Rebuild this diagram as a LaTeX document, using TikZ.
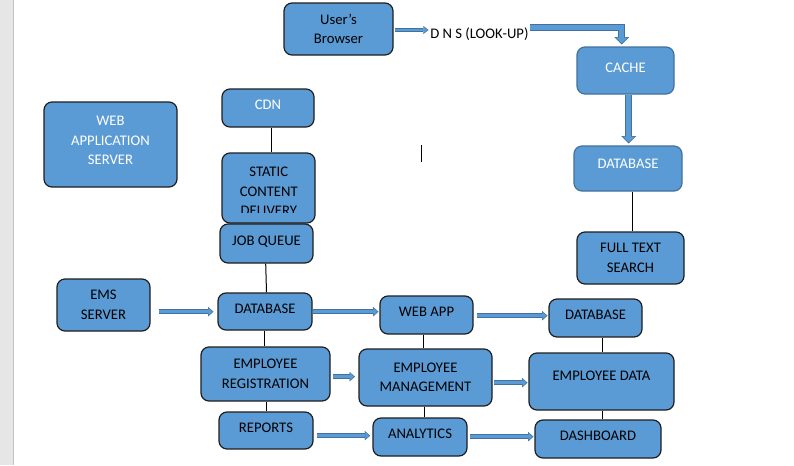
\documentclass[tikz,border=0pt]{standalone}
\usepackage{fontspec}
\setmainfont{Carlito}
\usetikzlibrary{arrows.meta,calc}
\definecolor{boxfill}{HTML}{5B9BD5}
\definecolor{boxedge}{HTML}{1E1E1E}
\definecolor{blueedge}{HTML}{41719C}
\definecolor{afill}{HTML}{5B9BD5}
\definecolor{aedge}{HTML}{41719C}
\definecolor{margin}{HTML}{E6E6E6}
\definecolor{marginline}{HTML}{C4C4C4}
\newcommand\mkbox[7][]{\node[box,#1,minimum width={(#4-#2)*0.75pt},minimum height={(#5-#3)*0.75pt}] (#6) at ({(#2+#4)/2},{(#3+#5)/2}) {#7};}
\tikzset{
  box/.style={draw=boxedge, fill=boxfill, line width=0.9pt, rounded corners=6pt,
    inner sep=0pt, align=center, text=black, font=\fontsize{11}{14.6}\selectfont},
  whitetxt/.style={text=white},
  blueline/.style={draw=blueedge},
  one/.style={text height=7pt, text depth=4.5pt},
  conn/.style={draw=black, line width=0.75pt},
  barrow/.style={draw=aedge, line width=3.4pt,
    -{Triangle[length=4pt,width=7pt,line width=0.1pt]},
    postaction={draw=afill, line width=2pt, shorten >=0.8pt,
      -{Triangle[length=2.8pt,width=5pt,line width=0.1pt]}}},
  sarrow/.style={draw=aedge, line width=3pt,
    -{Triangle[length=3.8pt,width=5.8pt,line width=0.1pt]},
    postaction={draw=afill, line width=1.7pt, shorten >=0.8pt,
      -{Triangle[length=2.6pt,width=4pt,line width=0.1pt]}}},
  bigarrow/.style={draw=aedge, line width=5.2pt,
    -{Triangle[length=5.5pt,width=11pt,line width=0.1pt]},
    postaction={draw=afill, line width=3.7pt, shorten >=1pt,
      -{Triangle[length=4pt,width=8.5pt,line width=0.1pt]}}},
  plain/.style={inner sep=0pt, font=\fontsize{11}{14.6}\selectfont, text=black},
}
\begin{document}
\begin{tikzpicture}[x=0.75pt,y=-0.75pt]
\fill[white] (0,0) rectangle (794,465);
\useasboundingbox (0,0) rectangle (794,465);
\fill[margin] (0,0) rectangle (13,465);
\draw[marginline, line width=0.75pt] (13.3,0) -- (13.3,465);

% boxes
\mkbox{284}{3}{393}{55}{browser}{User’s\\Browser}
\mkbox[whitetxt,blueline,one]{577}{47}{674}{94}{cache}{CACHE}
\mkbox[whitetxt,blueline,text height=7pt,text depth=7.5pt]{574}{146}{682}{191}{dbt}{DATABASE}
\mkbox{577}{232}{684}{284}{fts}{FULL TEXT\\SEARCH}
\mkbox[whitetxt,text depth=6pt]{44}{102}{177}{187}{was}{WEB\\APPLICATION\\SERVER}
\mkbox[whitetxt,one]{222}{89}{314}{127}{cdn}{CDN}
\mkbox{222}{153}{315}{223}{scd}{}
\begin{scope}
  \clip (222,153) rectangle (315,212.7);
  \node[plain, align=center] (scdtext) at (268.8,191.7) {STATIC\\CONTENT\\DELIVERY};
\end{scope}
\mkbox[one]{220}{224}{313}{263}{jq}{JOB QUEUE}
\mkbox{57}{279}{150}{331}{ems}{EMS\\SERVER}
\mkbox[one]{218}{293}{312}{330}{dbm}{DATABASE}
\mkbox[one]{380}{296}{473}{334}{webapp}{WEB APP}
\mkbox[one]{549}{299}{642}{337}{dbr}{DATABASE}
\mkbox{201}{347}{330}{401}{ereg}{EMPLOYEE\\REGISTRATION}
\mkbox{359}{349}{492}{406}{emgmt}{EMPLOYEE\\MANAGEMENT}
\mkbox[text height=7pt,text depth=9pt]{529}{353}{674}{410}{edata}{EMPLOYEE DATA}
\mkbox[one]{219}{412}{313}{449}{reports}{REPORTS}
\mkbox[one]{373}{418}{467}{456}{analytics}{ANALYTICS}
\mkbox[one]{535}{420}{661}{458}{dash}{DASHBOARD}

% DNS label
\node[plain, anchor=west, text height=7pt, text depth=0pt] (dns) at (430,33.5) {D N S (LOOK-UP)};

% plain connectors
\draw[conn] (cdn.south -| 271.7,0) -- (scd.north -| 271.7,0);
\draw[conn] (dbt.south -| 632.3,0) -- (fts.north -| 632.3,0);
\draw[conn] (jq.south -| 265.7,0) -- (dbm.north -| 266.5,0);
\draw[conn] (dbm.south -| 264.3,0) -- (ereg.north -| 264.3,0);
\draw[conn] (ereg.south -| 266.7,0) -- (reports.north -| 266.7,0);
\draw[conn] (webapp.south -| 423.3,0) -- (emgmt.north -| 423.3,0);
\draw[conn] (emgmt.south -| 424.3,0) -- (analytics.north -| 424.3,0);
\draw[conn] (dbr.south -| 602.3,0) -- (edata.north -| 602.3,0);
\draw[conn] (edata.south -| 602.3,0) -- (dash.north -| 602.3,0);

% block arrows
\draw[sarrow] ($(browser.east |- 0,30)+(1.5,0)$) -- ($(dns.west |- 0,30)+(-1.5,0)$);
\draw[bigarrow] ($(dns.east |- 0,27.7)+(1,0)$) -| ($(cache.north -| 621.7,0)+(0,-2)$);
\draw[bigarrow] (cache.south -| 628.8,0) -- ($(dbt.north -| 628.8,0)+(0,-2)$);
\draw[barrow] ($(ems.east |- 0,311.7)+(8,0)$) -- ($(dbm.west |- 0,311.7)+(-4,0)$);
\draw[barrow] (dbm.east |- 0,311.7) -- ($(webapp.west |- 0,311.7)+(-1,0)$);
\draw[barrow] ($(webapp.east |- 0,315.7)+(3,0)$) -- ($(dbr.west |- 0,315.7)+(-1,0)$);
\draw[barrow] ($(ereg.east |- 0,376.7)+(2,0)$) -- ($(emgmt.west |- 0,376.7)+(-3.5,0)$);
\draw[barrow] ($(emgmt.east |- 0,382.7)+(1.5,0)$) -- ($(edata.west |- 0,382.7)+(-1,0)$);
\draw[barrow] ($(reports.east |- 0,435.7)+(3,0)$) -- ($(analytics.west |- 0,435.7)+(-2.3,0)$);
\draw[barrow] ($(analytics.east |- 0,436.7)+(2.3,0)$) -- ($(dash.west |- 0,436.7)+(-1,0)$);

% text caret
\draw[line width=0.75pt] (421.3,145) -- (421.3,161.7);
\end{tikzpicture}
\end{document}
